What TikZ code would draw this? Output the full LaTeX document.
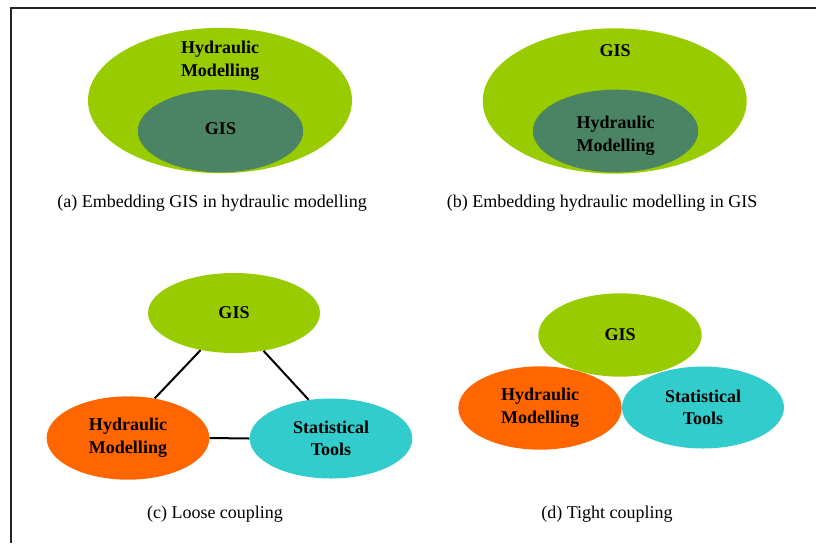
\documentclass[tikz,border=0pt]{standalone}
\usepackage{fontspec}
\setmainfont{Liberation Serif}
\usetikzlibrary{shapes.geometric}
\definecolor{lgreen}{RGB}{153,204,0}
\definecolor{dgreen}{RGB}{74,132,100}
\definecolor{orng}{RGB}{255,102,0}
\definecolor{cyn}{RGB}{51,204,204}
\tikzset{
  blob/.style={ellipse, inner sep=0pt, draw=none},
  lbl/.style={font=\fontsize{13.5}{17}\selectfont\bfseries, align=center, inner sep=0pt},
  captxt/.style={font=\fontsize{13.5}{16}\selectfont, inner sep=0pt},
  link/.style={line width=1.5pt, black},
  framelines/.style={line width=1.8pt, black!85}
}
\begin{document}
\begin{tikzpicture}[x=0.75pt,y=-0.75pt]
\useasboundingbox (0,0) rectangle (816,543);
% frame
\coordinate (fr1) at (816,8);
\coordinate (fr2) at (11,8);
\coordinate (fr3) at (11,543);
\draw[framelines] (fr1) -- (fr2) -- (fr3);

% (a)
\node[blob, fill=lgreen, minimum width=198pt, minimum height=109pt] (aout) at (220,100.5) {};
\node[blob, fill=dgreen, minimum width=124pt, minimum height=62pt] (ain) at (220.5,131) {};
\node[lbl] (aoutt) at (220,61) {Hydraulic\\Modelling};
\node[lbl] (aint) at (220.5,129) {GIS};
\node[captxt] (acap) at (212,203) {(a) Embedding GIS in hydraulic modelling};

% (b)
\node[blob, fill=lgreen, minimum width=198pt, minimum height=109pt] (bout) at (614.7,101) {};
\node[blob, fill=dgreen, minimum width=124pt, minimum height=62pt] (bin) at (615.5,131) {};
\node[lbl] (boutt) at (615,51) {GIS};
\node[lbl] (bint) at (615.5,136) {Hydraulic\\Modelling};
\node[captxt] (bcap) at (602,203) {(b) Embedding hydraulic modelling in GIS};

% (c)
\node[blob, fill=lgreen, minimum width=129pt, minimum height=60pt, lbl] (cg) at (234,313) {GIS};
\node[blob, fill=orng, minimum width=122pt, minimum height=62.5pt, lbl] (ch) at (128,438) {Hydraulic\\Modelling};
\node[blob, fill=cyn, minimum width=122pt, minimum height=60pt, lbl] (cs) at (331,438.5) {Statistical\\Tools};
\draw[link] (cg.228) -- (ch.56);
\draw[link] (cg.308) -- (cs.120);
\draw[link] (ch.east) -- (cs.west);
\node[captxt] (ccap) at (215,514) {(c) Loose coupling};

% (d)
\node[blob, fill=lgreen, minimum width=122.5pt, minimum height=62.5pt, lbl] (dg) at (620,335) {GIS};
\node[blob, fill=orng, minimum width=122.5pt, minimum height=62.5pt, lbl] (dh) at (540,408) {Hydraulic\\Modelling};
\node[blob, fill=cyn, minimum width=121.5pt, minimum height=61.5pt, lbl] (ds) at (703,407.5) {Statistical\\Tools};
\node[captxt] (dcap) at (607,514) {(d) Tight coupling};
\end{tikzpicture}
\end{document}
